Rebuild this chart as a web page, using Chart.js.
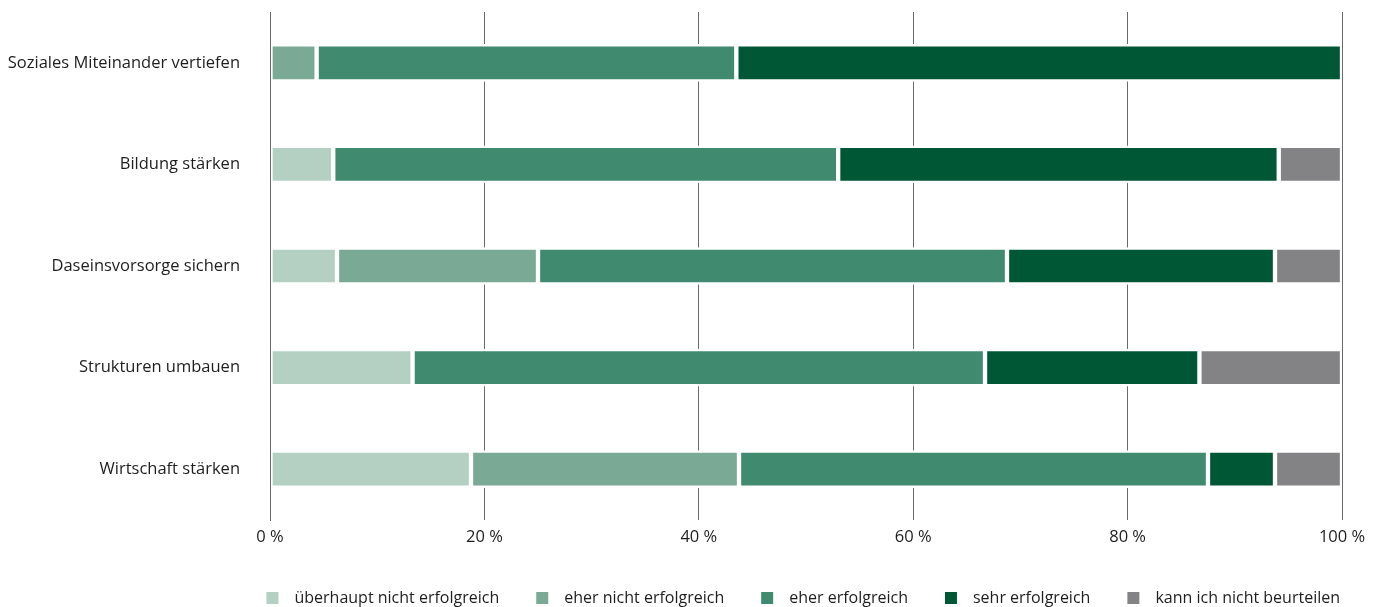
<!DOCTYPE html>
<html lang="de">
<head>
<meta charset="utf-8">
<title>Erfolg der Maßnahmen</title>
<script src="https://cdn.jsdelivr.net/npm/chart.js@4.4.1/dist/chart.umd.min.js"></script>
<style>
  html, body { margin: 0; padding: 0; background: #fff; }
  #wrap { width: 1382px; height: 607px; }
</style>
</head>
<body>
<div id="wrap"><canvas id="chart"></canvas></div>
<script>
// Handlungsfelder (Zeilen)
const categories = [
    "Soziales Miteinander vertiefen",
    "Bildung stärken",
    "Daseinsvorsorge sichern",
    "Strukturen umbauen",
    "Wirtschaft stärken"
];

// Anteile in Prozent je Antwortkategorie
const ueberhauptNicht = [0, 5.9, 6.25, 13.3, 18.75];
const eherNicht = [4.35, 0, 18.75, 0, 25.0];
const eherErfolgreich = [39.15, 47.1, 43.75, 53.4, 43.75];
const sehrErfolgreich = [56.5, 41.1, 25.0, 20.0, 6.25];
const kannNicht = [0, 5.9, 6.25, 13.3, 6.25];

const xTicks = [0, 20, 40, 60, 80, 100];

const seriesNames = [
    "überhaupt nicht erfolgreich",
    "eher nicht erfolgreich",
    "eher erfolgreich",
    "sehr erfolgreich",
    "kann ich nicht beurteilen"
];
const seriesData = [ueberhauptNicht, eherNicht, eherErfolgreich, sehrErfolgreich, kannNicht];
const seriesColors = ["#b4d0c3", "#7aaa95", "#408a70", "#005736", "#838386"];

const FONT = "'Open Sans', 'Noto Sans', sans-serif";
const TEXT = "#1e1e1e";
const GRID = "#6a6a6a";

const datasets = seriesNames.map((name, i) => ({
    label: name,
    data: seriesData[i],
    backgroundColor: seriesColors[i],
    borderColor: "#ffffff",
    borderWidth: 2.5,
    borderSkipped: false,
    barThickness: 37
}));

new Chart(document.getElementById("chart"), {
    type: "bar",
    data: { labels: categories, datasets: datasets },
    options: {
        indexAxis: "y",
        responsive: true,
        maintainAspectRatio: false,
        animation: false,
        layout: { padding: { top: 12, right: 13, left: 0, bottom: -15 } },
        scales: {
            x: {
                stacked: true,
                min: 0,
                max: 100,
                afterBuildTicks: (scale) => {
                    scale.ticks = xTicks.map(v => ({ value: v }));
                },
                afterFit: (scale) => {
                    scale.height = 35;
                    scale.paddingRight = 40; // Platz rechts neben der Plotfläche
                },
                grid: { color: GRID, lineWidth: 1, drawTicks: false },
                border: { display: false },
                ticks: {
                    padding: 7,
                    color: TEXT,
                    font: { family: FONT, size: 16.5 },
                    callback: (v) => v + " %"
                }
            },
            y: {
                stacked: true,
                afterFit: (scale) => {
                    scale.width = 270;
                    scale.paddingTop = 0;
                    scale.paddingBottom = 0;
                },
                grid: { display: false, drawTicks: false },
                border: { display: true, color: GRID, width: 1, z: 1 },
                ticks: {
                    padding: 30,
                    color: TEXT,
                    font: { family: FONT, size: 16.5 }
                }
            }
        },
        plugins: {
            tooltip: { enabled: false },
            legend: {
                position: "bottom",
                align: "end",
                labels: {
                    color: TEXT,
                    font: { family: FONT, size: 16 },
                    // breiter weißer Rand: sichtbares Kästchen 12 px, mehr Abstand zum Text
                    boxWidth: 28,
                    boxHeight: 28,
                    padding: 29,
                    generateLabels: (chart) => {
                        const items = Chart.defaults.plugins.legend.labels.generateLabels(chart);
                        items.forEach(it => { it.lineWidth = 16; it.strokeStyle = "#ffffff"; });
                        return items;
                    }
                }
            }
        }
    }
});
</script>
</body>
</html>
